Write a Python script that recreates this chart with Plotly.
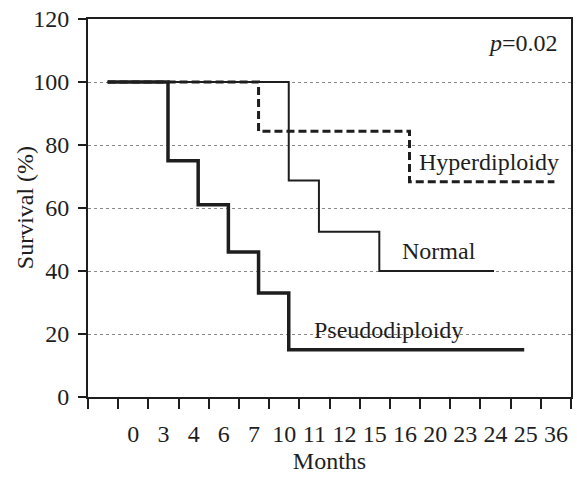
import plotly.graph_objects as go

# Category labels on the x axis (months); first category is blank
MONTHS = [0, 3, 4, 6, 7, 10, 11, 12, 15, 16, 20, 23, 24, 25, 36]

# Kaplan-Meier step data: event months and survival (%) after each event
PSEUDO_T = [3, 4, 6, 7, 10]
PSEUDO_S = [75, 61, 46, 33, 15]
PSEUDO_END = 25

NORMAL_T = [10, 11, 15]
NORMAL_S = [68.7, 52.5, 40]
NORMAL_END = 24

HYPER_T = [7, 16]
HYPER_S = [84.4, 68.3]
HYPER_END = 36

START_S = 100
Y_TICKS = [0, 20, 40, 60, 80, 100, 120]

SHIFT = 0.15  # events plotted slightly right of the category centre


def pos(m):
    return MONTHS.index(m) + 1


def step(ts, ss, end):
    xs = [0 + SHIFT] + [pos(t) + SHIFT for t in ts] + [pos(end) - 0.05]
    ys = [START_S] + ss + [ss[-1]]
    return xs, ys


INK = "#1e1e1e"
FONT = "Liberation Serif"
FS = 24

fig = go.Figure()
for (ts, ss, end, width, dash) in [
    (HYPER_T, HYPER_S, HYPER_END, 3, "8px,4px"),
    (NORMAL_T, NORMAL_S, NORMAL_END, 2, "solid"),
    (PSEUDO_T, PSEUDO_S, PSEUDO_END, 3.5, "solid"),
]:
    xs, ys = step(ts, ss, end)
    fig.add_trace(go.Scatter(x=xs, y=ys, mode="lines", line_shape="hv",
                             line=dict(color=INK, width=width, dash=dash),
                             showlegend=False, hoverinfo="skip"))

fig.update_layout(
    width=577, height=477,
    margin=dict(l=88, r=6, t=19, b=80, autoexpand=False),
    paper_bgcolor="white", plot_bgcolor="white",
    font=dict(family=FONT, size=FS, color=INK),
    xaxis=dict(
        range=[-0.5, 15.5],
        tickmode="array",
        tickvals=[i + 1 for i in range(len(MONTHS))],
        ticktext=[str(m) for m in MONTHS],
        ticks="outside", ticklen=14, tickcolor="rgba(0,0,0,0)",
        showgrid=False, zeroline=False,
        showline=True, linecolor=INK, linewidth=2, mirror=True,
        minor=dict(tick0=-0.5, dtick=1, ticks="outside", ticklen=10,
                   tickwidth=2, tickcolor=INK, showgrid=False),
        title=dict(text="Months", font=dict(size=FS), standoff=6),
        tickfont=dict(size=FS),
    ),
    yaxis=dict(
        range=[0, 120],
        tickvals=Y_TICKS,
        ticks="outside", ticklen=8, tickwidth=2, tickcolor=INK,
        ticklabelstandoff=4,
        showgrid=True, gridcolor="#888888", griddash="dot", gridwidth=1,
        zeroline=False,
        showline=True, linecolor=INK, linewidth=2, mirror=True,
        tickfont=dict(size=FS),
    ),
)

# y-axis title placed close to the tick labels, as in the reference
fig.add_annotation(text="Survival (%)", textangle=-90, xref="paper", yref="paper",
                   x=-0.130, y=0.5, xanchor="center", yanchor="middle",
                   showarrow=False, font=dict(family=FONT, size=FS, color=INK))

ann = [
    ("<i>p</i>=0.02", 13.92, 112.4),
    ("Hyperdiploidy", 12.78, 74.6),
    ("Normal", 11.12, 46.5),
    ("Pseudodiploidy", 9.47, 21.3),
]
for text, x, y in ann:
    fig.add_annotation(text=text, x=x, y=y, xref="x", yref="y",
                       showarrow=False, font=dict(family=FONT, size=FS, color=INK))

fig.write_html("out.html")
